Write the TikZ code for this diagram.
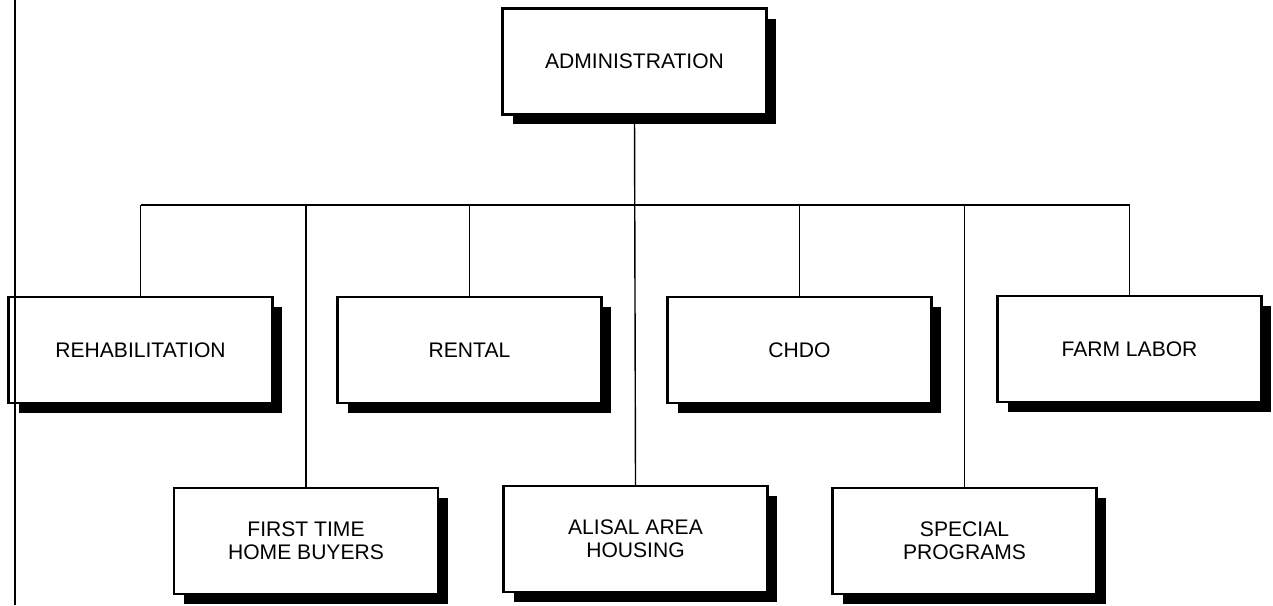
\documentclass[tikz,border=0pt]{standalone}
\usepackage{fontspec}
\setsansfont{Liberation Sans}
\usetikzlibrary{shadows}

\tikzset{
  unitbox/.style={draw, line width=1.2pt, fill=white, align=center,
    minimum width=5.28cm, minimum height=2.12cm, inner sep=0pt,
    font=\sffamily\fontsize{12}{13.2}\selectfont,
    drop shadow={shadow xshift=0.2cm, shadow yshift=-0.2cm, fill=black, opacity=1}},
  link/.style={line width=0.8pt}
}

\begin{document}
\begin{tikzpicture}[x=0.02cm, y=-0.02cm]
  \useasboundingbox (0,0) rectangle (1273,605);

  % casetele
  \node[unitbox] (admin) at (634.5,61.5) {ADMINISTRATION};
  \node[unitbox] (rehab) at (140.5,350) {REHABILITATION};
  \node[unitbox] (rental) at (469.5,350) {RENTAL};
  \node[unitbox] (chdo) at (799.5,350) {CHDO};
  \node[unitbox] (farm) at (1129.5,349) {FARM LABOR};
  \node[unitbox] (first) at (306,541) {FIRST TIME\\HOME BUYERS};
  \node[unitbox] (alisal) at (635.5,539) {ALISAL AREA\\HOUSING};
  \node[unitbox] (special) at (964.5,541) {SPECIAL\\PROGRAMS};

  % marginea din stânga
  \draw[line width=0.9pt] (15,0) -- (15,605);

  % legături
  \coordinate (bus) at (634.5,205);
  \draw[link] (rehab.north |- bus) -- (farm.north |- bus);
  \draw[link] (admin.south) -- (alisal.north);
  \foreach \n in {rehab,rental,chdo,farm,first,special}
    \draw[link] (\n.north) -- (\n.north |- bus);
\end{tikzpicture}
\end{document}
